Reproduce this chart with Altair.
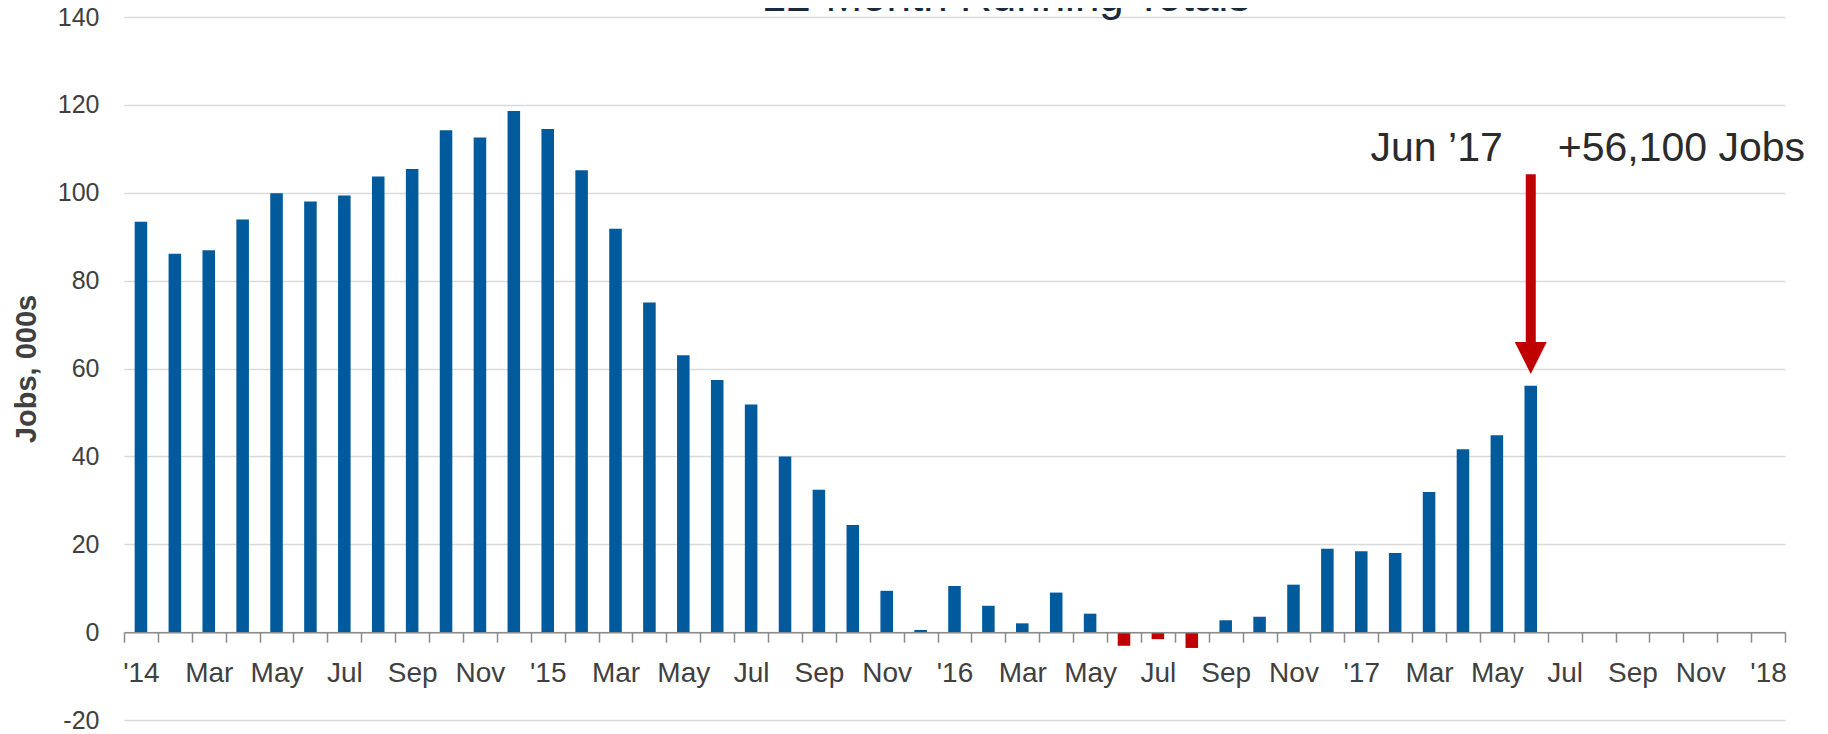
import json
import altair as alt
import pandas as pd

# ---------------- data ----------------
month_names = ["Jan", "Feb", "Mar", "Apr", "May", "Jun",
               "Jul", "Aug", "Sep", "Oct", "Nov", "Dec"]
axis_years = [2014, 2015, 2016, 2017, 2018]

# 12-month running totals, thousands of jobs (Jan 2014 .. Jun 2017)
jobs_2014 = [93.4, 86.1, 86.9, 93.9, 99.9, 98.0, 99.4, 103.7, 105.4, 114.2, 112.6, 118.6]
jobs_2015 = [114.5, 105.1, 91.8, 75.0, 63.0, 57.4, 51.8, 40.0, 32.4, 24.4, 9.4, 0.5]
jobs_2016 = [10.5, 6.0, 2.0, 9.0, 4.2, -3.1, -1.6, -3.6, 2.7, 3.5, 10.8, 19.0]
jobs_2017 = [18.4, 18.0, 31.9, 41.6, 44.8, 56.1]

values = jobs_2014 + jobs_2015 + jobs_2016 + jobs_2017

# axis runs Jan 2014 .. Jan 2018 (49 monthly slots)
n_slots = 49
tick_labels = []
for i in range(n_slots):
    m = i % 12
    yr = axis_years[i // 12]
    if m == 0:
        tick_labels.append("'" + str(yr)[2:])
    elif m % 2 == 0:
        tick_labels.append(month_names[m])
    else:
        tick_labels.append("")

y_ticks = [-20, 0, 20, 40, 60, 80, 100, 120, 140]

df = pd.DataFrame({
    "idx": list(range(len(values))),
    "jobs": values,
    "sign": ["neg" if v < 0 else "pos" for v in values],
})

# annotation (Jun '17)
ann = pd.DataFrame({
    "idx": [41],
    "label_when": ["Jun \u201917"],
    "label_what": ["+56,100 Jobs"],
    "text_y": [107.2],
    "arrow_top": [104.2],
    "arrow_base": [64.5],
    "head_y": [62.4],
})

BLUE = "#005a9c"
RED = "#c00000"
FONT = "Liberation Sans"

x_enc = alt.X(
    "idx:O",
    scale=alt.Scale(domain=list(range(n_slots)), paddingInner=0, paddingOuter=0),
    axis=alt.Axis(
        title=None,
        orient="bottom",
        offset=-87.875,
        tickBand="extent",
        labelExpr=json.dumps(tick_labels) + "[datum.value]",
        labelAngle=0,
        labelFontSize=28,
        labelColor="#404040",
        labelPadding=17,
        labelOverlap=False,
        labelFlush=False,
        tickSize=10,
        tickColor="#8a8a8a",
        tickWidth=1.5,
        domainColor="#8a8a8a",
        domainWidth=1.5,
        grid=False,
        zindex=1,
    ),
)

y_scale = alt.Scale(domain=[-20, 140], nice=False, zero=False)

bars = alt.Chart(df).mark_bar(width=alt.RelativeBandSize(0.37)).encode(
    x=x_enc,
    y=alt.Y(
        "jobs:Q",
        scale=y_scale,
        axis=alt.Axis(
            values=y_ticks,
            labelExpr="'' + datum.value",
            grid=True,
            gridColor="#d9d9d9",
            gridWidth=1.5,
            domain=False,
            ticks=False,
            tickSize=0,
            labelFontSize=25,
            labelColor="#404040",
            labelPadding=25,
            title="Jobs, 000s",
            titleFontSize=29,
            titleFontWeight="bold",
            titleColor="#404040",
            titleAngle=-90,
            titleX=-98,
            titleY=351.5,
            titleBaseline="middle",
            zindex=0,
        ),
    ),
    color=alt.Color("sign:N", scale=alt.Scale(domain=["pos", "neg"], range=[BLUE, RED]), legend=None),
)

when_text = alt.Chart(ann).mark_text(
    align="right", baseline="alphabetic", dx=-28, fontSize=41, color="#2b2b2b"
).encode(x="idx:O", y=alt.Y("text_y:Q", scale=y_scale), text="label_when:N")

what_text = alt.Chart(ann).mark_text(
    align="left", baseline="alphabetic", dx=27, fontSize=41, color="#2b2b2b"
).encode(x="idx:O", y=alt.Y("text_y:Q", scale=y_scale), text="label_what:N")

shaft = alt.Chart(ann).mark_rule(strokeWidth=10, color=RED).encode(
    x="idx:O", y=alt.Y("arrow_top:Q", scale=y_scale), y2="arrow_base:Q"
)

head = alt.Chart(ann).mark_point(
    shape="M-1,-1L1,-1L0,1Z", size=1024, filled=True, color=RED, opacity=1, strokeWidth=0
).encode(x="idx:O", y=alt.Y("head_y:Q", scale=y_scale))

title_text = alt.Chart(ann).mark_text(
    align="center", baseline="alphabetic", fontSize=44, color="#1b2a3a"
).encode(x=alt.value(882), y=alt.value(-6), text=alt.value("12-Month Running Totals"))

chart = alt.layer(bars, shaft, head, when_text, what_text, title_text).properties(
    width=1661,
    height=703,
    autosize=alt.AutoSizeParams(type="none"),
    padding={"left": 116, "top": 9, "right": 30, "bottom": 14},
    background="white",
).configure(font=FONT).configure_view(stroke=None, strokeWidth=0)

chart.save("out.html", embed_options={"renderer": "svg", "actions": False})
